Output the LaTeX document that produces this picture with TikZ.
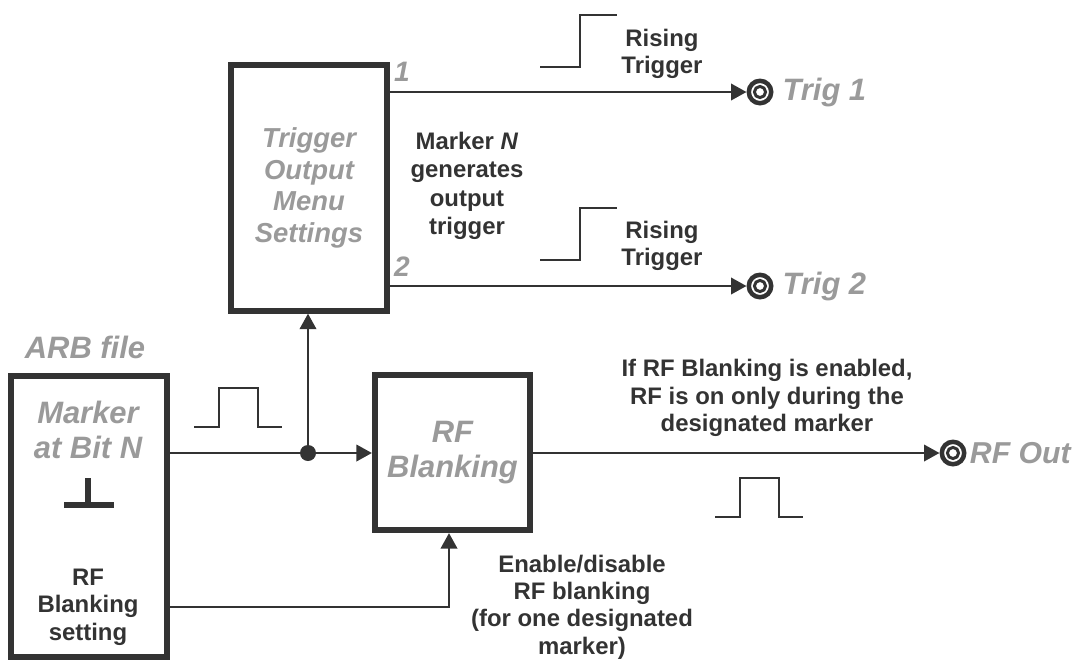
\documentclass[tikz,border=0pt]{standalone}
\usepackage{fontspec}
\setmainfont{Liberation Sans}
\usetikzlibrary{arrows.meta,positioning}
\definecolor{ink}{HTML}{333333}
\definecolor{dim}{HTML}{9A9A9A}

\begin{document}
\begin{tikzpicture}[x=0.025cm, y=-0.025cm, line join=miter]

% ---------------- styles ----------------
\tikzset{
  blk/.style  ={draw=ink, line width=4.3pt, fill=white, inner sep=0pt},
  wire/.style ={draw=ink, line width=2.1pt},
  sig/.style  ={wire, -{Triangle[length=11pt, width=11.5pt]}},
  jack/.style ={circle, draw=ink, line width=3.2pt, minimum size=0.56cm, inner sep=0pt,
                path picture={\draw[ink, line width=2.1pt]
                  (path picture bounding box.center) circle[radius=0.14cm];}},
  note/.style ={text=ink, font=\fontsize{17}{19.5}\selectfont\bfseries, align=center},
  tag/.style  ={text=dim, font=\fontsize{22}{25}\selectfont\bfseries\itshape, align=center}
}

% helper: rising edge, starts low at (#1,#2)
\newcommand{\RiseStep}[2]{%
  \draw[wire] (#1,#2) -- ++(40,0) -- ++(0,-52) -- ++(37,0);
}
% helper: single pulse, starts low at (#1,#2)
\newcommand{\Pulse}[2]{%
  \draw[wire] (#1,#2) -- ++(25,0) -- ++(0,-39) -- ++(39,0) -- ++(0,39) -- ++(24,0);
}

\useasboundingbox (0,0) rectangle (1080,660);

% ---------------- blocks ----------------
\node[blk, minimum width=3.9cm, minimum height=7.025cm] (arb) at (89,516.5) {};
\node[blk, tag, font=\fontsize{19.5}{22.5}\selectfont\bfseries\itshape,
      minimum width=3.9cm, minimum height=6.125cm] (trg) at (309,188)
      {Trigger\\Output\\Menu\\Settings};
\node[blk, tag, minimum size=3.875cm] (rfb) at (452.5,452.5) {RF\\Blanking};

% ARB file contents
\node[tag] (arbName) at (85,347) {ARB file};
\node[tag] (mkrBit)  at (88,430) {Marker\\at Bit N};
\node[note] (rfSet)  at (88,607) {RF\\Blanking\\setting};
\draw[ink, line width=4.5pt] (88,478) -- (88,505) (64,505) -- (114,505);

% ---------------- outputs ----------------
\node[jack] (j1) at (760,92)  {};
\node[jack] (j2) at (760,286) {};
\node[jack] (j3) at (953,453) {};
\node[tag, inner sep=0pt, right=0.22cm of j1] (trig1) {Trig 1};
\node[tag, inner sep=0pt, right=0.22cm of j2] (trig2) {Trig 2};
\node[tag, inner sep=0pt, right=0.08cm of j3, font=\fontsize{21.5}{25}\selectfont\bfseries\itshape] (rfOut) {RF Out};

\node[tag, font=\fontsize{20}{24}\selectfont\bfseries\itshape] (port1) at (402,72)  {1};
\node[tag, font=\fontsize{20}{24}\selectfont\bfseries\itshape] (port2) at (402,267) {2};

% ---------------- wires ----------------
\coordinate (jn) at (308,453);
\coordinate (bk) at (449,607);

\draw[wire] (arb.east |- jn) -- (jn);
\draw[sig]  (jn) -- (jn -| rfb.west);
\draw[sig]  (jn) -- (jn |- trg.south);
\fill[ink]  (jn) circle[radius=8];

\draw[sig] (arb.east |- bk) -- (bk) -- (bk |- rfb.south);

\draw[sig] (trg.east |- j1) -- (j1);
\draw[sig] (trg.east |- j2) -- (j2);
\draw[sig] (rfb.east |- j3) -- (j3);

% ---------------- waveforms ----------------
\RiseStep{540}{67}
\RiseStep{540}{260}
\Pulse{194}{427}
\Pulse{715}{517}

% ---------------- notes ----------------
\node[note, font=\fontsize{17}{20.3}\selectfont\bfseries] (mkrN) at (467,186)
     {Marker \textit{N}\\generates\\output\\trigger};
\node[note] (rise1) at (662,54)  {Rising\\Trigger};
\node[note] (rise2) at (662,246) {Rising\\Trigger};
\node[note] (blkOn) at (767,398) {If RF Blanking is enabled,\\RF is on only during the\\designated marker};
\node[note] (enDis) at (582,607) {Enable/disable\\RF blanking\\(for one designated\\marker)};

\end{tikzpicture}
\end{document}
